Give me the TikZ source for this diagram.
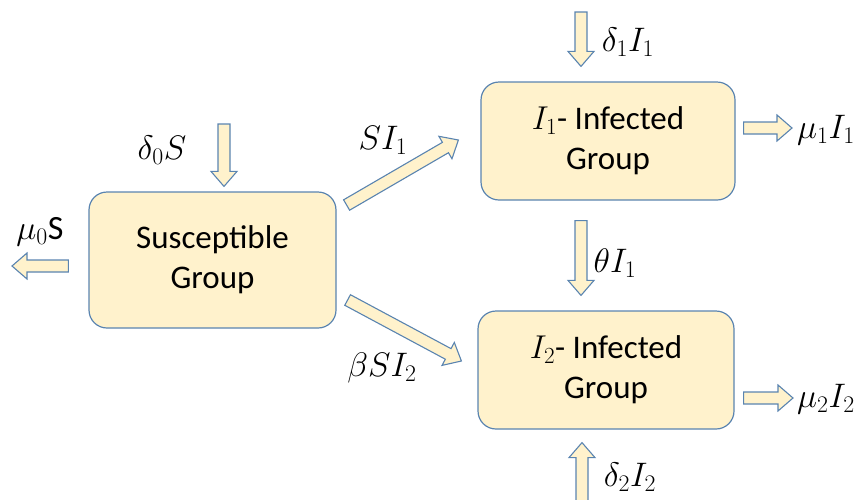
\RequirePackage{fix-cm}
\documentclass[tikz,border=0pt]{standalone}
\usepackage{amsmath}
\usepackage{fontspec}
\setmainfont{Carlito}
\usetikzlibrary{calc}

\definecolor{boxfill}{HTML}{FFF2CC}
\definecolor{boxline}{HTML}{5A84B0}

\tikzset{
 group/.style={draw=boxline, fill=boxfill, line width=1.2pt, rounded corners=18pt,
  align=center, font=\fontsize{33}{40}\selectfont, inner sep=0pt},
 fatarr/.style={draw=boxline, fill=boxfill, line width=1.1pt, line join=miter},
 lbl/.style={font=\fontsize{34}{38}\selectfont, inner sep=0pt}
}

% block arrow from #1 to #2, #3 names the foot of the head
\def\sw{6pt}
\def\hw{13pt}
\def\hl{15pt}
\newcommand{\fatarrow}[3]{
 \coordinate (#3) at ($(#2)!\hl!(#1)$);
 \draw[fatarr] ($(#1)!\sw!90:(#2)$) -- ($(#3)!\sw!90:(#2)$) -- ($(#3)!\hw!90:(#2)$)
  -- (#2) -- ($(#3)!\hw!-90:(#2)$) -- ($(#3)!\sw!-90:(#2)$) -- ($(#1)!\sw!-90:(#2)$) -- cycle;
}

\begin{document}
\begin{tikzpicture}[x=1pt,y=-1pt]
\useasboundingbox (0,0) rectangle (862,499);

%%%%%groups
\node[group, minimum width=247pt, minimum height=136pt] (S) at (212.5,260) {Susceptible\\Group};
\node[group, minimum width=254pt, minimum height=118pt] (I1) at (608,141) {$I_1$- Infected\\Group};
\node[group, minimum width=256pt, minimum height=118pt] (I2) at (606,370) {$I_2$- Infected\\Group};

%%%%%free ends and tips
\coordinate (d0) at (224,124);
\coordinate (d0t) at ($(S.north)+(11.5,-5)$);
\coordinate (m0) at ($(S.west)+(-20,6)$);
\coordinate (m0t) at (12,266);
\coordinate (d1) at (581,12);
\coordinate (d1t) at ($(I1.north)+(-27,-15)$);
\coordinate (m1) at ($(I1.east)+(8,-13)$);
\coordinate (m1t) at (792,128);
\coordinate (th) at ($(I1.south)+(-27,20)$);
\coordinate (tht) at ($(I2.north)+(-25,-15)$);
\coordinate (d2) at (582,505);
\coordinate (d2t) at ($(I2.south)+(-24,13)$);
\coordinate (m2) at ($(I2.east)+(9,28)$);
\coordinate (m2t) at (793,398);
\coordinate (s1) at ($(S.east)+(10,-55)$);
\coordinate (s1t) at ($(I1.west)+(-22,-1)$);
\coordinate (s2) at ($(S.east)+(11,40)$);
\coordinate (s2t) at ($(I2.west)+(-16,-9)$);

%%%%%arrows
\fatarrow{d0}{d0t}{d0h}
\fatarrow{m0}{m0t}{m0h}
\fatarrow{d1}{d1t}{d1h}
\fatarrow{m1}{m1t}{m1h}
\fatarrow{th}{tht}{thh}
\fatarrow{d2}{d2t}{d2h}
\fatarrow{m2}{m2t}{m2h}
\fatarrow{s1}{s1t}{s1h}
\fatarrow{s2}{s2t}{s2h}

%%%%%rates
\node[lbl] (ld0) at (162,150) {$\delta_0S$};
\node[lbl] (lm0) at (40,232) {$\mu_0$S};
\node[lbl] (ld1) at (628,42) {$\delta_1I_1$};
\node[lbl, anchor=west] (lm1) at (797,130) {$\mu_1I_1$};
\node[lbl] (lth) at (615,263) {$\theta I_1$};
\node[lbl] (ld2) at (630,477) {$\delta_2I_2$};
\node[lbl, anchor=west] (lm2) at (797,399) {$\mu_2I_2$};
\node[lbl] (ls1) at (383,140) {$SI_1$};
\node[lbl] (ls2) at (382,368) {$\beta SI_2$};
\end{tikzpicture}
\end{document}
